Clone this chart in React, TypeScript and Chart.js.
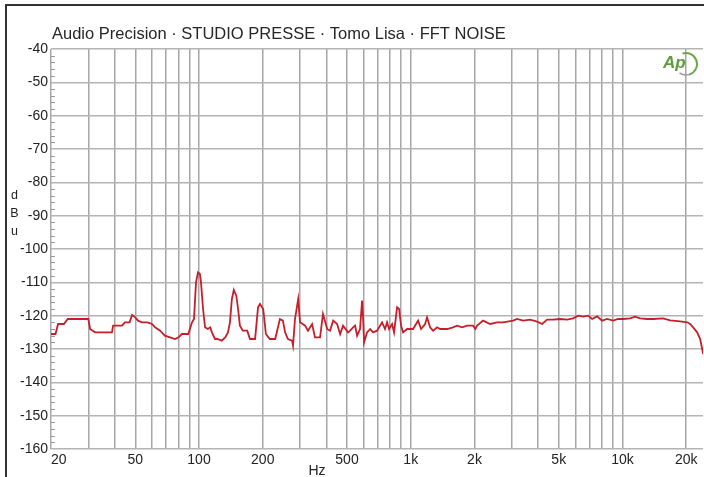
import React, { useEffect, useRef } from 'react';
import { Chart, registerables } from 'chart.js';

Chart.register(...registerables);

const TITLE = 'Audio Precision · STUDIO PRESSE · Tomo Lisa · FFT NOISE';
const Y_LETTERS = ['d', 'B', 'u'];
const X_UNIT = 'Hz';
const LOGO = 'Ap';

// FFT noise trace (frequency in Hz, level in dBu)
const freqHz = [
  20, 21, 21.6, 23, 24, 27, 30, 30.6, 32.3, 36, 38.8, 39.3, 43.3, 44.7, 47, 48.3, 50, 51.5, 53.8, 57,
  60, 62, 65.5, 69, 73, 77, 80, 83, 89, 92.7, 94.7, 96.8, 98.9, 101, 102.2, 104.5, 106.8, 110, 113, 115,
  119, 122, 128, 133, 137, 140, 143, 146, 150, 153, 156, 161, 169, 174, 184, 190, 194, 201, 207, 216,
  229, 241, 249, 255, 263, 275, 278, 284, 294, 300, 317, 327, 342, 353, 373, 385, 403, 416, 430, 449,
  464, 479, 506, 517, 534, 546, 558, 576, 589, 595, 602, 622, 643, 664, 693, 732, 756, 773, 790, 816,
  834, 862, 881, 900, 920, 961, 1026, 1071, 1083, 1119, 1169, 1194, 1234, 1275, 1332, 1376, 1485, 1584, 1655, 1747,
  1845, 1970, 2020, 2057, 2196, 2370, 2558, 2730, 3044, 3178, 3394, 3662, 3951, 4173, 4406, 4702, 5075, 5477, 5846, 6174,
  6516, 6881, 7186, 7589, 8013, 8461, 9032, 9537, 10071, 10866, 11474, 12115, 13074, 13953, 15558, 16784, 18718, 20199, 20866, 21560,
  22519, 23268, 24046,
];
const levelDbu = [
  -125.5, -125.5, -122.5, -122.5, -121, -121, -121, -124, -125, -125, -125, -123, -123, -122, -122, -119.8, -120.5, -121.5, -122, -122,
  -122.5, -123.5, -124.5, -126, -126.5, -127, -126.5, -125.5, -125.5, -122, -121, -110, -107, -107.5, -110, -118, -123.5, -124, -123.5, -125,
  -127, -127, -127.5, -126.5, -125, -122, -115, -112.3, -114, -118, -123, -124.5, -124.5, -127, -127, -117.5, -116.5, -118, -125.5, -127,
  -127, -121, -121.5, -125, -127, -127.5, -129, -121, -115, -122, -123, -124.5, -122.5, -126.5, -126.5, -119.5, -124, -124.5, -121.5, -122.5,
  -125.5, -123, -125, -124.5, -123.5, -123, -126, -124, -115.5, -120, -128, -125, -124, -125, -124.5, -122, -124, -122, -124, -122.5,
  -125, -117.5, -118, -123, -125, -124, -124, -122, -121.5, -124, -122.5, -120.5, -123.5, -124.5, -123.5, -124, -124, -123.5, -123, -123.5,
  -123, -123, -124, -123, -121.5, -122.5, -122, -122, -121.5, -121, -121.5, -121.2, -121.8, -122.5, -121.2, -121.2, -121, -121.2, -120.8, -120,
  -120.3, -120, -121, -120.2, -121.5, -121, -121.5, -121, -121, -120.8, -120.3, -120.8, -121, -121, -120.8, -121.4, -121.7, -122, -122.5, -123.5,
  -125, -127, -131.5,
];

const gridFreqs = [
  20, 30, 40, 50, 60, 70, 80, 90,
  100, 200, 300, 400, 500, 600, 700, 800, 900,
  1000, 2000, 3000, 4000, 5000, 6000, 7000, 8000, 9000,
  10000, 20000,
];
const labeledFreqs = [20, 50, 100, 200, 500, 1000, 2000, 5000, 10000, 20000];
const freqLabels = ['\u2007\u200720', '50', '100', '200', '500', '1k', '2k', '5k', '10k', '20k'];

const X_MIN = 20;
const X_MAX = 24000;
const Y_MIN = -160;
const Y_MAX = -40;
const Y_STEP = 10;
const Y_MINOR_STEP = 2;

const FONT = '"Liberation Sans", Arial, Helvetica, sans-serif';

export default function App() {
  const ref = useRef<HTMLCanvasElement>(null);

  useEffect(() => {
    const canvas = ref.current;
    if (!canvas) return;

    const decor = {
      id: 'decor',
      beforeDraw(chart: any) {
        const ctx = chart.ctx as CanvasRenderingContext2D;
        ctx.save();
        ctx.fillStyle = '#ffffff';
        ctx.fillRect(0, 0, chart.width, chart.height);
        ctx.fillStyle = '#333333';
        ctx.fillRect(5, 4, chart.width - 5, 2);
        ctx.fillRect(5, 4, 2, chart.height - 4);
        ctx.restore();
      },
      afterDraw(chart: any) {
        const ctx = chart.ctx as CanvasRenderingContext2D;
        const { left } = chart.chartArea;
        const ys = chart.scales.y;
        ctx.save();
        // minor ticks on the left edge
        ctx.strokeStyle = '#9a9a9a';
        ctx.lineWidth = 1;
        for (let v = Y_MIN + Y_MINOR_STEP; v < Y_MAX; v += Y_MINOR_STEP) {
          if (v % Y_STEP === 0) continue;
          const y = Math.round(ys.getPixelForValue(v)) + 0.5;
          ctx.beginPath();
          ctx.moveTo(left, y);
          ctx.lineTo(left + 4, y);
          ctx.stroke();
        }
        // title
        ctx.fillStyle = '#262626';
        ctx.font = `16.5px ${FONT}`;
        ctx.textAlign = 'left';
        ctx.textBaseline = 'alphabetic';
        ctx.fillText(TITLE, 52, 39);
        // y unit (stacked letters)
        ctx.fillStyle = '#222222';
        ctx.font = `12.5px ${FONT}`;
        ctx.textAlign = 'center';
        const baseY = [198.5, 217, 234.5];
        Y_LETTERS.forEach((ch, i) => ctx.fillText(ch, 14.5, baseY[i]));
        // x unit
        ctx.font = `14px ${FONT}`;
        ctx.fillText(X_UNIT, 317, 474.5);
        // logo
        ctx.fillStyle = '#5c9c3c';
        ctx.font = `italic bold 17px ${FONT}`;
        ctx.textAlign = 'left';
        ctx.fillText(LOGO, 663, 68);
        ctx.strokeStyle = '#6aa84a';
        ctx.lineWidth = 2;
        ctx.beginPath();
        ctx.arc(686, 64, 11, -1.9, 1.3);
        ctx.stroke();
        ctx.strokeStyle = '#999999';
        ctx.lineWidth = 1.5;
        ctx.beginPath();
        ctx.arc(686, 64, 11, 1.3, 2.2);
        ctx.stroke();
        ctx.restore();
      },
    };

    const chart = new Chart(canvas, {
      type: 'line',
      data: {
        datasets: [
          {
            data: freqHz.map((f, i) => ({ x: f, y: levelDbu[i] })),
            borderColor: '#c41f2a',
            borderWidth: 1.8,
            pointRadius: 0,
            tension: 0,
            fill: false,
          },
        ],
      },
      options: {
        responsive: false,
        animation: false,
        devicePixelRatio: 1,
        layout: { padding: { top: 49, right: 1, left: 0, bottom: 0 } },
        plugins: {
          legend: { display: false },
          tooltip: { enabled: false },
          title: { display: false },
        },
        scales: {
          x: {
            type: 'logarithmic',
            position: 'bottom',
            min: X_MIN,
            max: X_MAX,
            afterBuildTicks: (scale: any) => {
              scale.ticks = gridFreqs.map((v) => ({ value: v }));
            },
            afterFit: (scale: any) => {
              scale.height = 28;
            },
            ticks: {
              autoSkip: false,
              maxRotation: 0,
              minRotation: 0,
              padding: 3,
              color: '#222222',
              font: { family: FONT, size: 14 },
              callback: (value: any) => {
                const idx = labeledFreqs.indexOf(Number(value));
                return idx >= 0 ? freqLabels[idx] : '';
              },
            },
            grid: { color: '#a6a6a6', lineWidth: 1.5, drawTicks: false },
            border: { display: false },
          },
          y: {
            type: 'linear',
            min: Y_MIN,
            max: Y_MAX,
            afterFit: (scale: any) => {
              scale.width = 51;
            },
            ticks: {
              stepSize: Y_STEP,
              padding: 3,
              color: '#222222',
              font: { family: FONT, size: 14 },
            },
            grid: { color: '#b4b4b4', lineWidth: 1.5, drawTicks: false },
            border: { display: false },
          },
        },
      },
      plugins: [decor],
    });

    return () => chart.destroy();
  }, []);

  return (
    <div style={{ position: 'fixed', left: 0, top: 0, width: 704, height: 477, background: '#fff', overflow: 'hidden' }}>
      <canvas ref={ref} width={704} height={477} style={{ display: 'block', width: 704, height: 477 }} />
    </div>
  );
}
